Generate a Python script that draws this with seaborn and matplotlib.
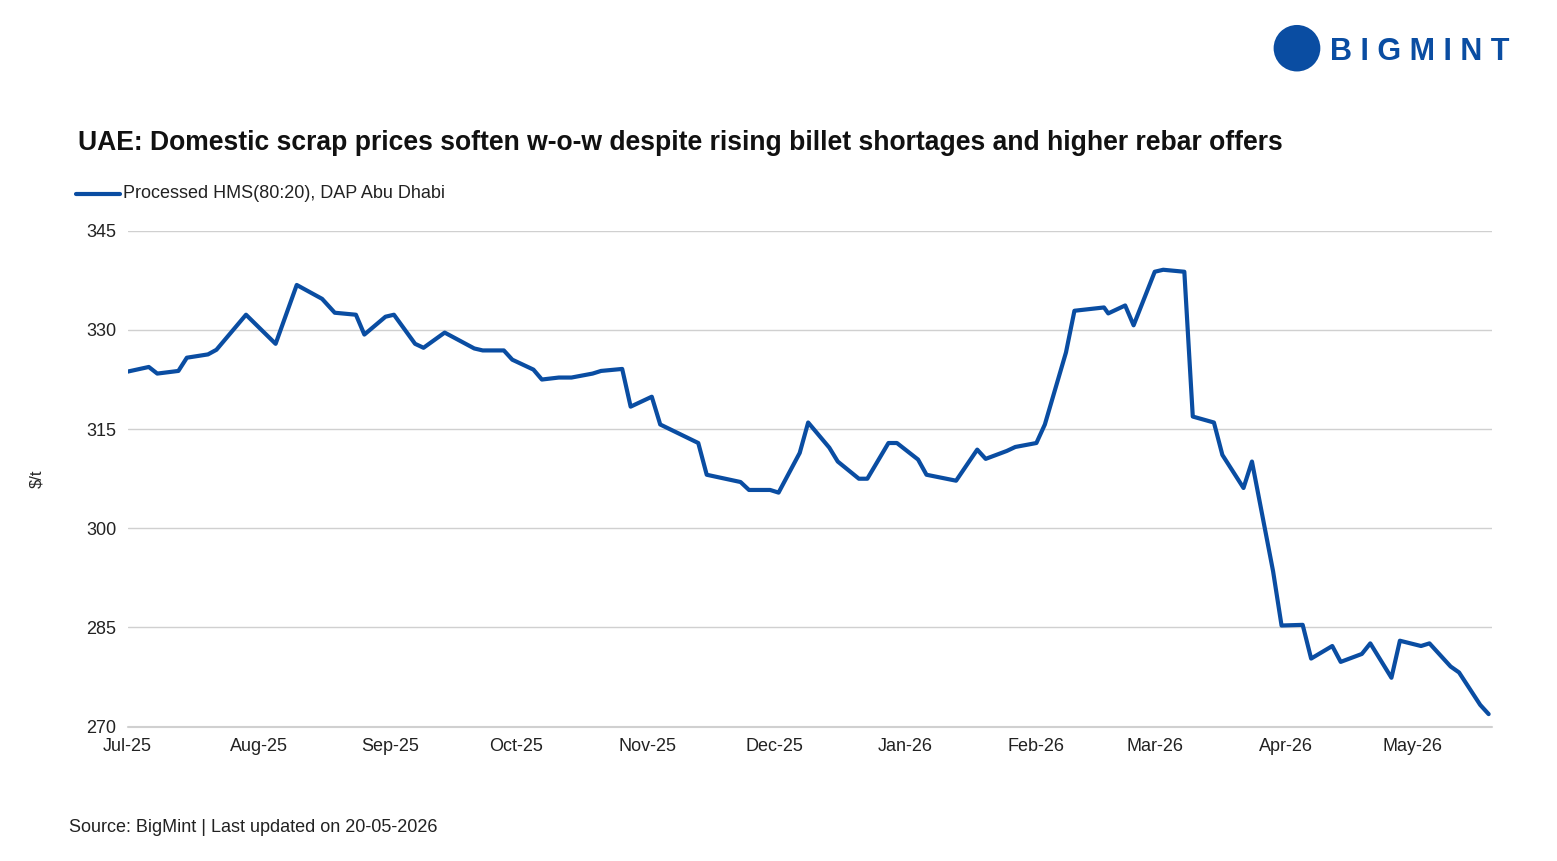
import pandas as pd
import numpy as np
import matplotlib
matplotlib.use("Agg")
import matplotlib.pyplot as plt
import matplotlib.dates as mdates
import seaborn as sns

# days after 2025-07-01
day_offsets = [0, 5, 7, 12, 14, 19, 21, 28, 35, 40, 42, 46, 49, 54, 56, 61, 63, 68, 70, 75,
               82, 84, 89, 91, 96, 98, 102, 105, 110, 112, 117, 119, 124, 126, 135, 137, 145,
               147, 152, 154, 159, 161, 166, 168, 173, 175, 180, 182, 187, 189, 196, 201, 203,
               208, 210, 215, 217, 222, 224, 231, 232, 236, 238, 243, 245, 250, 252, 257, 259,
               264, 266, 271, 273, 278, 280, 285, 287, 292, 294, 299, 301, 306, 308, 313, 315,
               320, 322]
prices = [323.7, 324.4, 323.4, 323.8, 325.8, 326.3, 327.0, 332.3, 327.9, 336.8, 336.1, 334.7,
          332.6, 332.3, 329.3, 332.0, 332.3, 327.9, 327.3, 329.6, 327.2, 326.9, 326.9, 325.5,
          324.0, 322.5, 322.8, 322.8, 323.4, 323.8, 324.1, 318.4, 319.9, 315.7, 312.9, 308.1,
          307.0, 305.8, 305.8, 305.4, 311.4, 316.0, 312.2, 310.1, 307.5, 307.5, 312.9, 312.9,
          310.4, 308.1, 307.2, 311.9, 310.5, 311.7, 312.3, 312.9, 315.7, 326.6, 332.9, 333.4,
          332.5, 333.7, 330.7, 338.8, 339.1, 338.8, 316.9, 316.0, 311.1, 306.1, 310.1, 293.5,
          285.3, 285.4, 280.3, 282.2, 279.8, 281.0, 282.6, 277.4, 283.0, 282.2, 282.6, 279.1,
          278.2, 273.3, 271.9]
y_ticks = [270, 285, 300, 315, 330, 345]

start = pd.Timestamp("2025-07-01")
df = pd.DataFrame({"date": [start + pd.Timedelta(days=d) for d in day_offsets], "price": prices})

sns.set_style("white")
plt.rcParams["font.family"] = ["Liberation Sans", "DejaVu Sans"]

blue = "#0A4DA2"
fig = plt.figure(figsize=(15.57, 8.61), dpi=100)
ax = fig.add_axes([0.082, 0.156, 0.876, 0.576])
sns.lineplot(data=df, x="date", y="price", color=blue, linewidth=3, ax=ax, zorder=3)

ax.set_ylim(270, 345)
ax.set_yticks(y_ticks)
ax.set_xlim(start, start + pd.Timedelta(days=322.7))
ax.xaxis.set_major_locator(mdates.MonthLocator())
ax.xaxis.set_major_formatter(mdates.DateFormatter("%b-%y"))
ax.grid(axis="y", color="#d0d0d0", linewidth=1)
ax.axhline(270, color="#d0d0d0", linewidth=1.5, clip_on=False, zorder=1)
for s in ax.spines.values():
    s.set_visible(False)
ax.tick_params(axis="both", length=0, labelsize=13, colors="#222222", pad=8)
ax.set_xlabel("")
ax.set_ylabel("$/t", fontsize=12, labelpad=30)

fig.text(0.05, 0.834, "UAE: Domestic scrap prices soften w-o-w despite rising billet shortages and higher rebar offers",
         fontsize=19.1, fontweight="bold", color="#111111", va="center")
fig.lines.append(plt.Line2D([0.049, 0.077], [0.775, 0.775], color=blue, linewidth=3, transform=fig.transFigure))
fig.text(0.079, 0.775, "Processed HMS(80:20), DAP Abu Dhabi", fontsize=13, va="center", color="#222222")
fig.text(0.044, 0.039, "Source: BigMint | Last updated on 20-05-2026", fontsize=13, va="center", color="#222222")
fig.text(0.854, 0.94, "B I G M I N T", fontsize=22, fontweight="bold", color=blue, va="center")
fig.patches.append(matplotlib.patches.Ellipse((0.833, 0.944), 0.03, 0.054, transform=fig.transFigure,
                                              facecolor=blue, edgecolor="none"))

fig.savefig("out.png", dpi=100)
